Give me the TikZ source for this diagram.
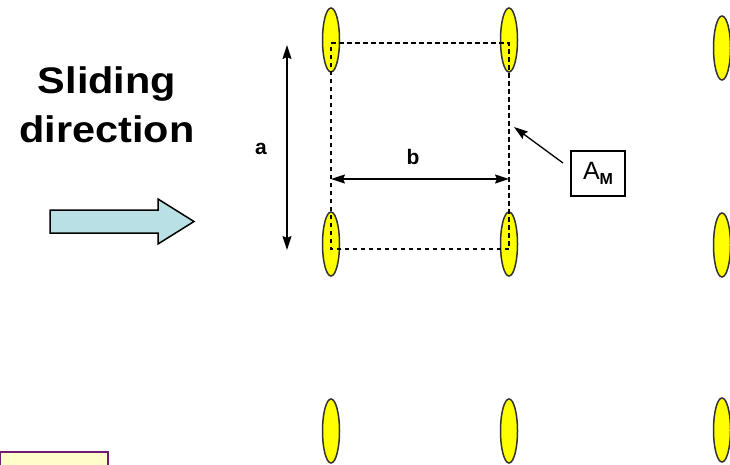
\documentclass[tikz,border=0pt]{standalone}
\usepackage{fontspec}
\setmainfont{Liberation Sans}
\usetikzlibrary{shapes.geometric,arrows.meta}
\definecolor{ellfill}{RGB}{255,255,0}
\definecolor{ellline}{RGB}{50,50,50}
\definecolor{arrfill}{RGB}{185,224,228}
\definecolor{boxline}{RGB}{110,30,110}
\definecolor{boxfill}{RGB}{255,255,204}
\tikzset{
  post/.style={ellipse, draw=ellline, line width=1.5pt, fill=ellfill, minimum width=17pt, minimum height=64pt, inner sep=0pt},
  dashline/.style={black, line width=1.1pt, dash pattern=on 4.5pt off 3.5pt},
  dimarrow/.style={black, line width=1.4pt, {Stealth[length=14pt,width=9pt,inset=2pt]}-{Stealth[length=14pt,width=9pt,inset=2pt]}},
  lbl/.style={font=\fontsize{21}{23}\selectfont\bfseries, inner sep=0pt},
}
\begin{document}
\begin{tikzpicture}[x=1pt,y=-1pt]
\useasboundingbox (0,0) rectangle (730,464);
\clip (0,0) rectangle (730,464);
% posts
\node[post] (p11) at (331,40) {};
\node[post] (p12) at (509,40) {};
\node[post] (p13) at (722,48) {};
\node[post] (p21) at (331,244) {};
\node[post] (p22) at (509,244) {};
\node[post] (p23) at (722,245) {};
\node[post] (p31) at (331,431) {};
\node[post] (p32) at (509,431) {};
\node[post] (p33) at (722,430) {};
% dashed cell
\coordinate (c1) at (331,43);
\coordinate (c2) at (509,43);
\coordinate (c3) at (509,249);
\coordinate (c4) at (331,249);
\draw[dashline] (c1) -- (c2) -- (c3) -- (c4) -- cycle;
% dimension a
\coordinate (a1) at (287,45);
\coordinate (a2) at (287,250);
\draw[dimarrow] (a1) -- (a2);
\node[lbl] (la) at (261,149) {a};
% dimension b
\coordinate (b1) at (331,179);
\coordinate (b2) at (509,179);
\draw[dimarrow] (b1) -- (b2);
\node[lbl] (lb) at (413,157) {b};
% A_M
\node[draw=black, line width=1.2pt, minimum width=54pt, minimum height=45pt, inner sep=0pt, font=\fontsize{25}{27}\selectfont] (am) at (598,173.5) {A\raisebox{-5pt}{\fontsize{16}{18}\selectfont\bfseries M}};
\coordinate (amtip) at (514,127);
\coordinate (amstart) at (563,163);
\draw[black, line width=1.3pt, -{Stealth[length=14pt,width=9pt,inset=2pt]}] (amstart) -- (amtip);
% sliding direction
\node[font=\fontsize{37}{49}\selectfont\bfseries, align=center, inner sep=0pt] (sd) at (107,105) {\scalebox{1.12}[1]{Sliding}\\\scalebox{1.12}[1]{direction}};
\draw[black, line width=1.5pt, fill=arrfill, line join=miter]
  (50,210) -- (158,210) -- (158,199) -- (194,221.5) -- (158,244) -- (158,233) -- (50,233) -- cycle;
% bottom-left box
\node[draw=boxline, line width=2.2pt, fill=boxfill, minimum width=108pt, minimum height=24pt, inner sep=0pt, anchor=north west] (bx) at (-1,451) {};
\end{tikzpicture}
\end{document}
